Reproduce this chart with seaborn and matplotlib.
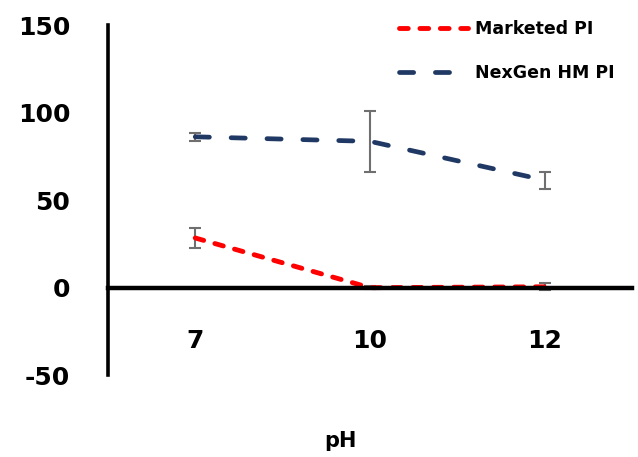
import matplotlib
matplotlib.use("Agg")
import matplotlib.pyplot as plt
import seaborn as sns
import pandas as pd
import numpy as np

#chart values
ph_labels = ["7", "10", "12"]
marketed = [28.4, 0.0, 0.5]
marketed_err = [5.6, 1.0, 2.0]
nexgen = [86.2, 83.6, 61.4]
nexgen_err = [2.2, 17.3, 4.8]
series_names = ["Marketed PI", "NexGen HM PI"]

sns.set_style("white")
plt.rcParams["font.family"] = ["DejaVu Sans"]
plt.rcParams["axes.unicode_minus"] = False
plt.rcParams["text.color"] = "black"
plt.rcParams["xtick.color"] = "black"
plt.rcParams["ytick.color"] = "black"
W = "bold"

df = pd.DataFrame({
    "pH": ph_labels * 2,
    "value": marketed + nexgen,
    "series": [series_names[0]] * 3 + [series_names[1]] * 3,
})

fig = plt.figure(figsize=(6.38, 4.57), dpi=100)
ax = fig.add_axes([0.169, 0.179, 0.822, 0.766])

colors = {"Marketed PI": "#ff0000", "NexGen HM PI": "#1f3864"}
widths = {"Marketed PI": 3.5, "NexGen HM PI": 3.4}
dashes = {"Marketed PI": (1.8, 2.4), "NexGen HM PI": (3.0, 4.6)}

sns.lineplot(data=df, x="pH", y="value", hue="series", style="series",
             size="series", palette=colors, dashes=dashes, sizes=widths,
             ax=ax, dash_capstyle="round", legend=False, sort=False)

#error bars
xpos = np.arange(len(ph_labels))
ax.errorbar(xpos, marketed, yerr=marketed_err, fmt="none", ecolor="#6f6f6f",
            elinewidth=1.5, capsize=4, capthick=1.5, zorder=1)
ax.errorbar(xpos, nexgen, yerr=nexgen_err, fmt="none", ecolor="#6f6f6f",
            elinewidth=1.5, capsize=4, capthick=1.5, zorder=1)

ax.set_xlim(-0.5, 2.5)
ax.set_ylim(-50, 150)
ax.set_yticks([-50, 0, 50, 100, 150])
ax.set_xticks(xpos)
ax.set_xticklabels(ph_labels)

ax.spines["top"].set_visible(False)
ax.spines["right"].set_visible(False)
ax.spines["bottom"].set_position(("data", 0))
ax.spines["bottom"].set_linewidth(3.2)
ax.spines["left"].set_linewidth(2.6)
ax.spines["bottom"].set_color("black")
ax.spines["left"].set_color("black")

ax.tick_params(axis="x", length=0, pad=30, labelsize=18, labelcolor="black")
ax.tick_params(axis="y", length=0, pad=27, labelsize=18, labelcolor="black")
for lab in ax.get_xticklabels() + ax.get_yticklabels():
    lab.set_fontweight(W)

ax.set_xlabel("")
ax.set_ylabel("")
fig.text(0.533, 0.035, "pH", ha="center", va="center", fontsize=15,
         fontweight=W, color="black")

#legend
handles = [
    plt.Line2D([], [], color=colors[n], linewidth=widths[n], dashes=dashes[n],
               dash_capstyle="round") for n in series_names
]
leg = ax.legend(handles, series_names, loc="upper right", bbox_to_anchor=(0.997, 1.06),
                frameon=False, handlelength=4.0, labelspacing=1.5, handletextpad=0.4,
                prop={"weight": W, "size": 12.5})
for t in leg.get_texts():
    t.set_color("black")

fig.savefig("out.png", dpi=100)
